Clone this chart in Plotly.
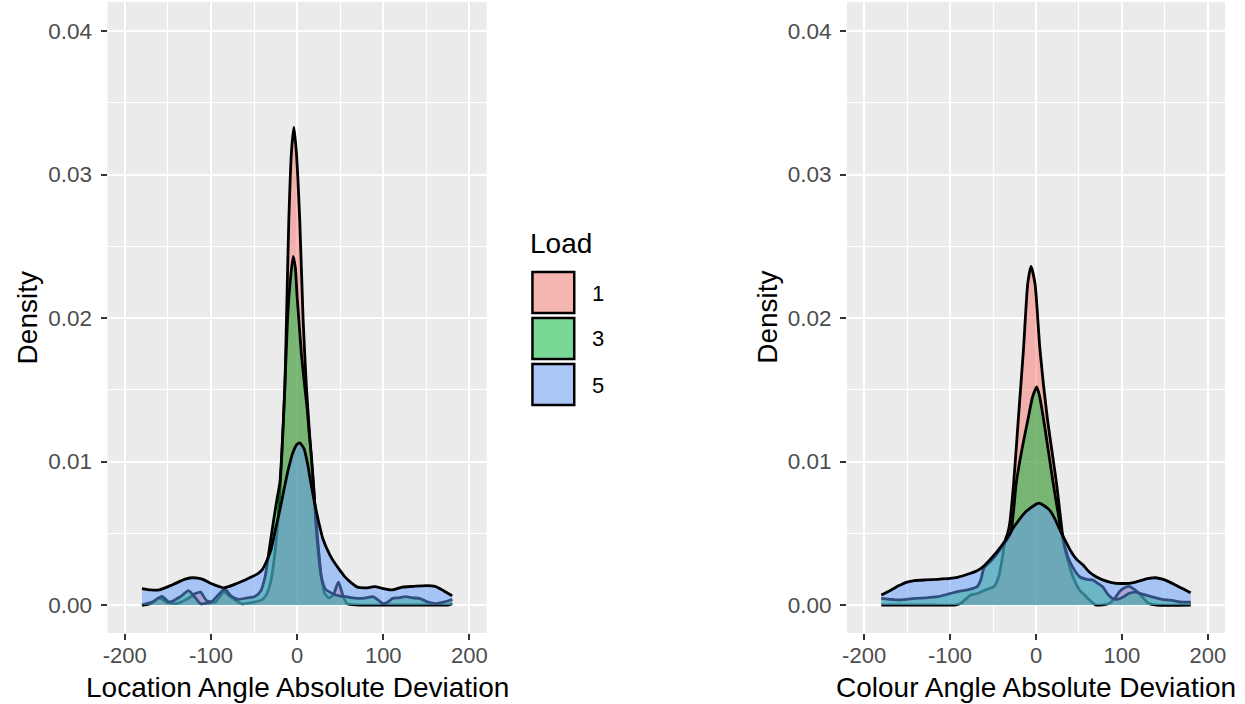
import plotly.graph_objects as go

# ---------------- data ----------------
loads = ["1", "3", "5"]

# Left panel: Location Angle Absolute Deviation
loc_x_load1 = [-180, -170, -160, -152, -140, -128, -118, -112, -105, -95, -85, -78, -65, -50, -40, -35, -30, -26, -22, -18,
               -14.2, -12.3, -9.6, -6.6, -3.7, -0.8, 3.1, 7, 10.8, 16, 20, 24, 28, 32, 37, 42, 48, 53, 58, 70, 100, 150, 175, 180]
loc_d_load1 = [0, 0.0001, 0.0005, 0.0002, 0.0001, 0.0004, 0.0008, 0.0009, 0.0003, 0.0002, 0.0009, 0.0006, 0.0001, 0.0002,
               0.0004, 0.0008, 0.0018, 0.0035, 0.0060, 0.0100, 0.0152, 0.0199, 0.0268, 0.0315, 0.0333, 0.0315, 0.0268,
               0.0199, 0.0152, 0.0106, 0.0075, 0.0045, 0.0020, 0.0008, 0.0005, 0.0007, 0.0016, 0.0007, 0.0001, 0, 0, 0, 0,
               0.0001]

loc_x_load3 = [-180, -168, -157, -148, -135, -126, -118, -112, -100, -90, -84, -76, -68, -58, -49, -42, -37, -32, -27, -23,
               -20, -17, -14.2, -11.1, -8.5, -4.6, -2, 0, 2, 5, 8.9, 12, 14, 16.3, 19.3, 22, 25, 28, 33, 38, 45, 52, 57, 65,
               72, 80, 88, 95, 100, 105, 111, 118, 126, 134, 142, 152, 161, 170, 178, 180]
loc_d_load3 = [0, 0.0002, 0.0006, 0.0002, 0.0006, 0.0010, 0.0005, 0.0001, 0.0002, 0.0008, 0.0011, 0.0006, 0.0004, 0.0005,
               0.0006, 0.0010, 0.0020, 0.0040, 0.0060, 0.0075, 0.0085, 0.0115, 0.0152, 0.0199, 0.0222, 0.0243, 0.0235,
               0.0215, 0.0199, 0.0175, 0.0152, 0.0135, 0.0120, 0.0106, 0.0082, 0.0055, 0.0035, 0.0020, 0.0011, 0.0009,
               0.0007, 0.0006, 0.00058, 0.0005, 0.00046, 0.0005, 0.00058, 0.0003, 0.0001, 0.0002, 0.00046, 0.0005,
               0.00058, 0.0005, 0.00046, 0.0002, 0.0001, 0.0002, 0.00035, 0.0004]

loc_x_load5 = [-180, -170, -160, -145, -130, -120, -110, -100, -85, -70, -55, -45, -40, -35, -30, -25, -20, -15, -10, -5,
               0, 3, 8, 12, 16, 20, 25, 30, 38, 45, 50, 55, 62, 70, 80, 90, 100, 110, 122, 135, 150, 160, 170, 180]
loc_d_load5 = [0.00115, 0.00105, 0.00105, 0.0014, 0.0018, 0.0019, 0.0018, 0.0015, 0.0012, 0.0015, 0.0019, 0.0022,
               0.0025, 0.0031, 0.0039, 0.0053, 0.0066, 0.0081, 0.0095, 0.0106, 0.0112, 0.0113, 0.0109, 0.0099, 0.0085,
               0.0072, 0.0058, 0.0046, 0.0035, 0.0028, 0.0024, 0.0020, 0.0016, 0.00125, 0.0012, 0.00128, 0.00115,
               0.00105, 0.00125, 0.0013, 0.00135, 0.0013, 0.0010, 0.00065]

# Right panel: Colour Angle Absolute Deviation
col_x_load1 = [-180, -120, -95, -88, -80, -76, -68, -59, -49, -43.4, -39.6, -35.7, -33, -30.8, -26, -20.4, -14.6, -9.6,
               -5.8, -1.2, 4.6, 13, 23.8, 30.7, 34, 38, 43, 50, 58.4, 65, 70, 85, 92, 97, 103, 108.4, 114, 120, 126, 131.5,
               140, 180]
col_d_load1 = [0, 0, 0, 0.0001, 0.0005, 0.0007, 0.0008, 0.00105, 0.00128, 0.00197, 0.00314, 0.00453, 0.0050, 0.0056,
               0.0085, 0.0131, 0.0178, 0.0224, 0.0236, 0.0224, 0.0178, 0.0131, 0.0085, 0.0050, 0.0038, 0.0029, 0.00197,
               0.0011, 0.00058, 0.0002, 0, 0.0001, 0.0005, 0.00093, 0.0012, 0.0013, 0.0011, 0.0008, 0.0004, 0.0001, 0, 0]

col_x_load3 = [-180, -170, -160, -150, -141, -128, -114.5, -100, -91.4, -80, -68.4, -64, -60.7, -52, -45, -38, -29.6, -23,
               -16.5, -8.8, -4, 0.8, 4, 8.4, 14.2, 20, 29.9, 33, 38, 45, 50.7, 58, 66, 72, 77.5, 83, 89, 95, 100, 108, 115,
               122, 133, 146.7, 160, 170, 180]
col_d_load3 = [0.00046, 0.0004, 0.00035, 0.0004, 0.00046, 0.0005, 0.00058, 0.0008, 0.00093, 0.00105, 0.00128, 0.0018,
               0.00256, 0.0031, 0.0036, 0.0042, 0.0050, 0.0085, 0.0108, 0.0131, 0.0145, 0.0152, 0.0146, 0.0131, 0.0108,
               0.0085, 0.0050, 0.0042, 0.0032, 0.0024, 0.00197, 0.0018, 0.00174, 0.0015, 0.00128, 0.0008, 0.00046,
               0.0004, 0.0005, 0.0008, 0.0009, 0.0008, 0.0006, 0.0004, 0.0003, 0.0002, 0.0002]

col_x_load5 = [-180, -170, -160.6, -150, -141.4, -128, -114.5, -100, -91.4, -76, -68, -60.7, -53, -45.3, -33.8, -25,
               -18.4, -12, -6.9, 0.8, 4.6, 10, 16, 22, 28, 34, 40, 47, 54.5, 62, 69.9, 80, 93, 100, 108.4, 116, 123.7, 131,
               139.1, 147, 154.5, 166, 177.5, 180]
col_d_load5 = [0.0007, 0.0010, 0.00132, 0.0016, 0.0017, 0.00175, 0.00179, 0.00185, 0.00193, 0.00221, 0.0024, 0.00272,
               0.0032, 0.00372, 0.00465, 0.0055, 0.00604, 0.0065, 0.00674, 0.00705, 0.00709, 0.0069, 0.0066, 0.0060,
               0.0052, 0.0045, 0.0038, 0.0032, 0.0028, 0.0023, 0.00197, 0.0017, 0.00151, 0.0015, 0.00151, 0.0016,
               0.00174, 0.00185, 0.0019, 0.0018, 0.00163, 0.00128, 0.00093, 0.00085]

x_ticks = [-200, -100, 0, 100, 200]
y_ticks = [0.00, 0.01, 0.02, 0.03, 0.04]
y_tick_labels = ["0.00", "0.01", "0.02", "0.03", "0.04"]

fills = ["rgba(248,118,109,0.5)", "rgba(0,186,56,0.5)", "rgba(97,156,255,0.5)"]
legend_fills = ["#F5B6B1", "#79D895", "#A9C6F7"]

FONT = "Liberation Sans, Arial, Helvetica, sans-serif"
W, H = 1245, 704

fig = go.Figure()

panels = [
    ("x", "y", [(loc_x_load1, loc_d_load1), (loc_x_load3, loc_d_load3), (loc_x_load5, loc_d_load5)]),
    ("x2", "y2", [(col_x_load1, col_d_load1), (col_x_load3, col_d_load3), (col_x_load5, col_d_load5)]),
]
for xa, ya, series in panels:
    for (xs, ds), fc, name in zip(series, fills, loads):
        fig.add_trace(go.Scatter(
            x=xs, y=ds, xaxis=xa, yaxis=ya, mode="lines", name=name,
            fill="tozeroy", fillcolor=fc,
            line=dict(color="black", width=2.8, shape="spline", smoothing=0.6),
            showlegend=False, hoverinfo="skip"))

def px_x(p):
    return p / W

def px_y(p):
    return 1 - p / H

ydom = [px_y(633), px_y(2)]
common_x = dict(range=[-220, 220], tickvals=x_ticks, ticktext=[str(v) for v in x_ticks],
                showgrid=True, gridcolor="white", gridwidth=2.2,
                minor=dict(tickvals=[-150, -50, 50, 150], showgrid=True, gridcolor="white", gridwidth=1.1),
                ticks="outside", ticklen=6, tickwidth=2, tickcolor="#333333",
                tickfont=dict(family=FONT, size=22, color="#4D4D4D"),
                zeroline=False, showline=False, fixedrange=True, ticklabelstandoff=-3)
common_y = dict(range=[-0.00195, 0.04202], tickvals=y_ticks, ticktext=y_tick_labels,
                showgrid=True, gridcolor="white", gridwidth=2.2,
                minor=dict(tickvals=[0.005, 0.015, 0.025, 0.035], showgrid=True, gridcolor="white", gridwidth=1.1),
                ticks="outside", ticklen=6, tickwidth=2, tickcolor="#333333",
                tickfont=dict(family=FONT, size=22.5, color="#4D4D4D"),
                zeroline=False, showline=False, fixedrange=True, ticklabelstandoff=4)

fig.update_layout(
    width=W, height=H,
    margin=dict(l=0, r=0, t=0, b=0),
    paper_bgcolor="white", plot_bgcolor="#EBEBEB",
    showlegend=False,
    xaxis=dict(domain=[px_x(103), px_x(484)], anchor="y", **common_x),
    yaxis=dict(domain=ydom, anchor="x", **common_y),
    xaxis2=dict(domain=[px_x(846), px_x(1226)], anchor="y2", **common_x),
    yaxis2=dict(domain=ydom, anchor="x2", **common_y),
)

annotations = [
    dict(text="Location Angle Absolute Deviation", x=px_x(293.5), y=px_y(687), xref="paper", yref="paper",
         xanchor="center", yanchor="middle", showarrow=False, font=dict(family=FONT, size=28, color="black")),
    dict(text="Colour Angle Absolute Deviation", x=px_x(1036), y=px_y(687), xref="paper", yref="paper",
         xanchor="center", yanchor="middle", showarrow=False, font=dict(family=FONT, size=28, color="black")),
    dict(text="Density", x=px_x(23), y=px_y(317.5), xref="paper", yref="paper", textangle=-90,
         xanchor="center", yanchor="middle", showarrow=False, font=dict(family=FONT, size=28, color="black")),
    dict(text="Density", x=px_x(766), y=px_y(317.5), xref="paper", yref="paper", textangle=-90,
         xanchor="center", yanchor="middle", showarrow=False, font=dict(family=FONT, size=28, color="black")),
    dict(text="Load", x=px_x(526), y=px_y(243), xref="paper", yref="paper",
         xanchor="left", yanchor="middle", showarrow=False, font=dict(family=FONT, size=28, color="black")),
]

shapes = []
key_tops = [272, 318, 364]
for top, lf, name in zip(key_tops, legend_fills, loads):
    shapes.append(dict(type="rect", xref="paper", yref="paper",
                       x0=px_x(530), x1=px_x(572), y0=px_y(top + 41), y1=px_y(top),
                       fillcolor=lf, line=dict(color="black", width=2.5)))
    annotations.append(dict(text=name, x=px_x(588), y=px_y(top + 21), xref="paper", yref="paper",
                            xanchor="left", yanchor="middle", showarrow=False,
                            font=dict(family=FONT, size=22, color="black")))

fig.update_layout(annotations=annotations, shapes=shapes)

fig.write_html("out.html", config={"displayModeBar": False},
               post_script="document.body.style.margin='0px';document.body.style.overflow='hidden';")
